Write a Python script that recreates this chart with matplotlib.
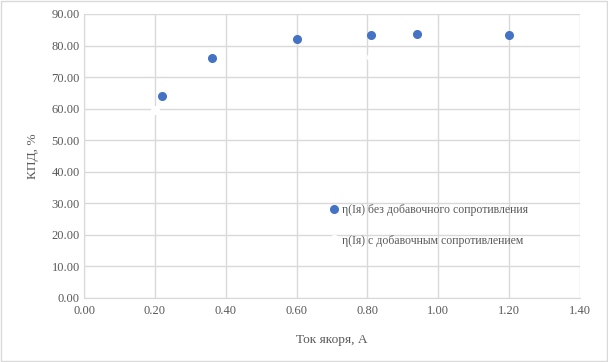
import matplotlib
matplotlib.use("Agg")
import matplotlib.pyplot as plt
from matplotlib.patches import Rectangle

# data
current_a = [0.22, 0.36, 0.60, 0.81, 0.94, 1.20]
eff_a = [64.0, 76.0, 82.2, 83.5, 83.7, 83.2]
current_b = [0.20, 0.81]
eff_b = [59.6, 76.4]
label_a = "η(Iя) без добавочного сопротивления"
label_b = "η(Iя) с добавочным сопротивлением"
xticks = [0.0, 0.2, 0.4, 0.6, 0.8, 1.0, 1.2, 1.4]
yticks = [0, 10, 20, 30, 40, 50, 60, 70, 80, 90]

plt.rcParams['font.family'] = ['Liberation Serif', 'DejaVu Serif']
grey = "#595959"
grid = "#d9d9d9"

fig = plt.figure(figsize=(6.08, 3.62), dpi=100)
ax = fig.add_axes([84/608, 1-298/362, 496/608, 284/362])

ax.plot(current_a, eff_a, 'o', color="#4472c4", ms=5.5, label=label_a, zorder=3)
ax.plot(current_b, eff_b, 'o', color="white", ms=5.5, label=label_b, zorder=3)

ax.set_xlim(0, 1.4)
ax.set_ylim(0, 90)
ax.set_xticks(xticks)
ax.set_yticks(yticks)
ax.set_xticklabels([f"{v:.2f}" for v in xticks])
ax.set_yticklabels([f"{v:.2f}" for v in yticks])
ax.grid(True, color=grid, lw=1)
ax.set_axisbelow(True)
for s in ax.spines.values():
    s.set_visible(False)
ax.spines['left'].set_visible(True)
ax.spines['bottom'].set_visible(True)
ax.spines['left'].set_color(grid)
ax.spines['bottom'].set_color(grid)
ax.tick_params(colors=grey, labelsize=9, length=0, pad=3)
ax.tick_params(axis='x', pad=5)

ax.set_xlabel("Ток якоря, А", fontsize=9.6, color=grey, labelpad=12)
ax.set_ylabel("КПД, %", fontsize=9.6, color=grey, labelpad=9)

leg = fig.legend(loc='upper left', bbox_to_anchor=(322/608, 1-199/362), frameon=False,
                 fontsize=8.5, labelcolor=grey, labelspacing=1.6, handletextpad=0.1,
                 handlelength=1.2, borderaxespad=0)

fig.patches.append(Rectangle((0.002, 0.003), 0.996, 0.994, transform=fig.transFigure,
                             fill=False, edgecolor=grid, lw=1))

fig.savefig("out.png", dpi=100)
